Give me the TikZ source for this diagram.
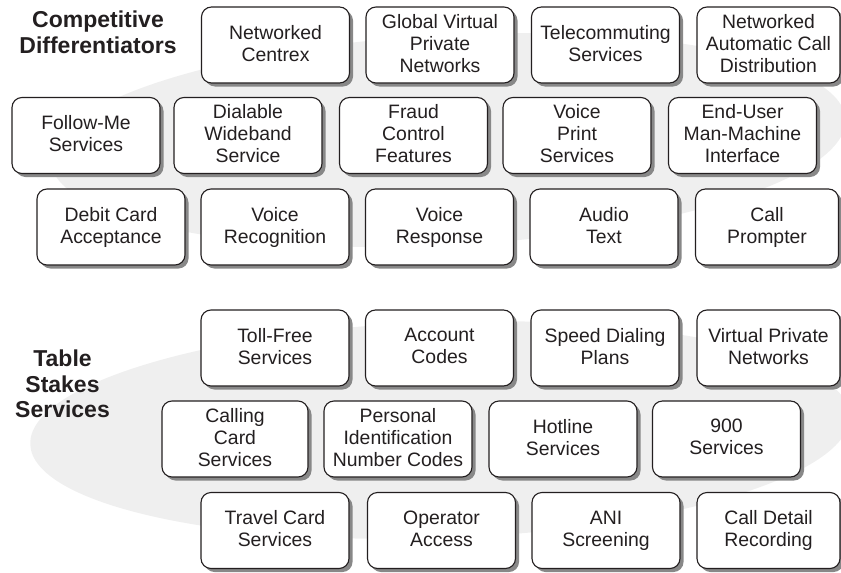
\documentclass[tikz,border=0pt]{standalone}
\usepackage{fontspec}
\setmainfont{Liberation Sans}
\usetikzlibrary{shadows}
\definecolor{ink}{HTML}{231F20}
\definecolor{halo}{HTML}{EFEFEF}
\definecolor{shade}{HTML}{888888}
\tikzset{
  svc/.style={draw=ink, line width=1.1pt, fill=white, rounded corners=10pt,
    align=center, inner sep=0pt, minimum width=148pt, minimum height=76pt,
    text=ink, font=\fontsize{19.4}{22}\selectfont,
    execute at end node={\vphantom{g}},
    drop shadow={shadow xshift=3.5pt, shadow yshift=-3.5pt, fill=shade, opacity=1}},
  grouptitle/.style={align=center, inner sep=0pt, text=ink,
    font=\fontsize{23}{25.5}\selectfont\bfseries},
}
\begin{document}
\begin{tikzpicture}[x=1pt,y=-1pt]
\useasboundingbox (0,0) rectangle (841,573);
% background halos
\fill[halo, rotate around={3:(448,140)}] (448,140) ellipse [x radius=398pt, y radius=105pt];
\fill[halo, rotate around={2:(440,430)}] (440,430) ellipse [x radius=410pt, y radius=108pt];
% titles
\node[grouptitle] (cd) at (98,32.5) {Competitive\\Differentiators};
\node[grouptitle] (tss) at (62.5,384) {Table\\Stakes\\Services};
% row 1
\node[svc] (nc) at (275.5,45) {Networked\\Centrex};
\node[svc] (gvpn) at (440,45) {Global Virtual\\Private\\Networks};
\node[svc] (tele) at (605.5,45) {Telecommuting\\Services};
\node[svc, minimum width=143pt] (nacd) at (768.5,45) {Networked\\Automatic Call\\Distribution};
% row 2
\node[svc] (fm) at (86,135.5) {Follow-Me\\Services};
\node[svc] (dws) at (248,135.5) {Dialable\\Wideband\\Service};
\node[svc] (fcf) at (413.5,135.5) {Fraud\\Control\\Features};
\node[svc] (vps) at (577,135.5) {Voice\\Print\\Services};
\node[svc] (eu) at (742.5,135.5) {End-User\\Man-Machine\\Interface};
% row 3
\node[svc] (dca) at (111,227) {Debit Card\\Acceptance};
\node[svc] (vrec) at (275,227) {Voice\\Recognition};
\node[svc] (vresp) at (439.5,227) {Voice\\Response};
\node[svc] (audio) at (604,227) {Audio\\Text};
\node[svc, minimum width=143pt] (cp) at (767,227) {Call\\Prompter};
% row 4
\node[svc] (tf) at (275,348) {Toll-Free\\Services};
\node[svc] (ac) at (439.5,348) {Account\\Codes};
\node[svc] (sdp) at (605,348) {Speed Dialing\\Plans};
\node[svc, minimum width=143pt] (vpn) at (768.5,348) {Virtual Private\\Networks};
% row 5
\node[svc, minimum width=146pt] (ccs) at (235,439) {Calling\\Card\\Services};
\node[svc] (pin) at (398,439) {Personal\\Identification\\Number Codes};
\node[svc] (hot) at (563,439) {Hotline\\Services};
\node[svc] (nine) at (726.5,439) {900\\Services};
% row 6
\node[svc] (tcs) at (275,530.5) {Travel Card\\Services};
\node[svc] (oa) at (441.5,530.5) {Operator\\Access};
\node[svc] (ani) at (606,530.5) {ANI\\Screening};
\node[svc, minimum width=143pt] (cdr) at (768.5,530.5) {Call Detail\\Recording};
\end{tikzpicture}
\end{document}
